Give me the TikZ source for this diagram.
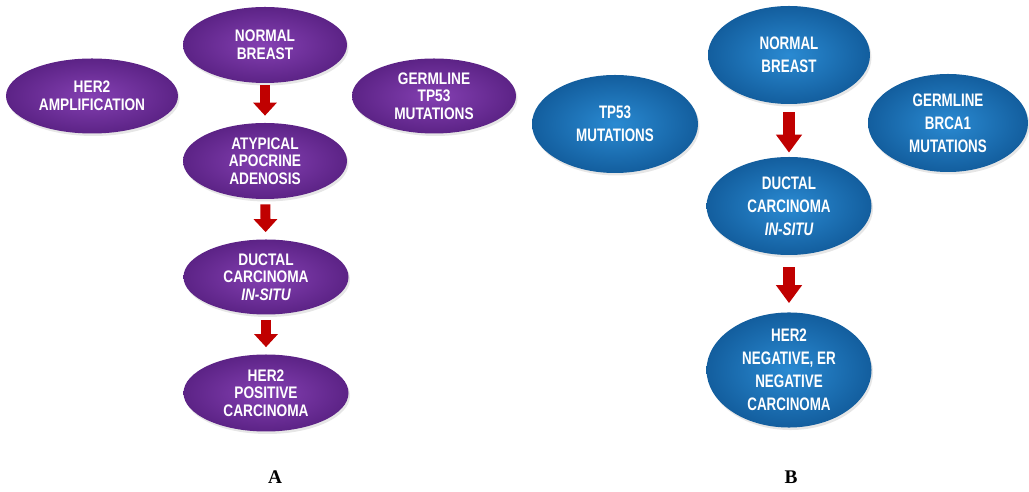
\documentclass[tikz,border=0pt]{standalone}
\usepackage{fontspec}
\setmainfont{Liberation Serif}
\newfontfamily\boxfont[FakeStretch=0.82]{Liberation Sans}
\newfontfamily\boxfontB[FakeStretch=0.74]{Liberation Sans}
\usetikzlibrary{shapes.geometric,arrows.meta,shadows}
\definecolor{purpleIn}{HTML}{8440B2}
\definecolor{purpleOut}{HTML}{5C2386}
\definecolor{blueIn}{HTML}{2A8AD2}
\definecolor{blueOut}{HTML}{135E9E}
\definecolor{arrowred}{HTML}{C00000}
\begin{document}
\begin{tikzpicture}[x=0.2mm, y=-0.2mm, line join=round,
    oval/.style={ellipse, inner sep=0pt, text=white, align=center,
        drop shadow={opacity=0.2, shadow xshift=0.3mm, shadow yshift=-0.5mm}},
    poval/.style={oval, shading=radial, inner color=purpleIn, outer color=purpleOut,
        font=\boxfont\bfseries\fontsize{9.5}{10}\selectfont},
    boval/.style={oval, shading=radial, inner color=blueIn, outer color=blueOut,
        font=\boxfontB\bfseries\fontsize{10.3}{13}\selectfont},
    fat/.style={draw=arrowred, line width=2mm, -{Triangle[width=4.6mm,length=2.6mm]},
        shorten <=1mm, shorten >=1.4mm},
    fatB/.style={draw=arrowred, line width=2.4mm, -{Triangle[width=5mm,length=3.6mm]}},
    panel/.style={font=\bfseries\fontsize{11}{13}\selectfont}]
    \useasboundingbox (0,0) rectangle (1029,492);
    % panel A
    \node[poval, minimum width=32.8mm, minimum height=15.2mm] (nbA) at (265,45) {NORMAL\\BREAST};
    \node[poval, minimum width=34.4mm, minimum height=15mm] (her2A) at (92,96) {HER2\\AMPLIFICATION};
    \node[poval, minimum width=32.8mm, minimum height=15mm] (gtpA) at (434,96) {GERMLINE\\TP53\\MUTATIONS};
    \node[poval, minimum width=32.8mm, minimum height=15.2mm] (aaaA) at (265,161) {ATYPICAL\\APOCRINE\\ADENOSIS};
    \node[poval, minimum width=33mm, minimum height=15mm] (dcisA) at (266,277) {DUCTAL\\CARCINOMA\\\itshape IN-SITU};
    \node[poval, minimum width=33mm, minimum height=15.4mm] (posA) at (266,393) {HER2\\POSITIVE\\CARCINOMA};
    \draw[fat, shorten <=0.4mm] (nbA) -- (aaaA);
    \draw[fat] (aaaA) -- (dcisA);
    \draw[fat] (dcisA) -- (posA);
    % panel B
    \node[boval, minimum width=32.4mm, minimum height=19.6mm] (nbB) at (789,55) {NORMAL\\BREAST};
    \node[boval, minimum width=33.2mm, minimum height=19.6mm] (tpB) at (615,124) {TP53\\MUTATIONS};
    \node[boval, minimum width=32mm, minimum height=19.6mm] (gbB) at (948,123) {GERMLINE\\BRCA1\\MUTATIONS};
    \node[boval, minimum width=33mm, minimum height=19.6mm] (dcisB) at (789,206) {DUCTAL\\CARCINOMA\\\itshape IN-SITU};
    \node[boval, minimum width=33mm, minimum height=23mm] (negB) at (789,370) {HER2\\NEGATIVE, ER\\NEGATIVE\\CARCINOMA};
    \draw[fatB, shorten <=1.6mm, shorten >=0.8mm] (nbB) -- (dcisB);
    \draw[fatB, shorten <=2.4mm, shorten >=1.8mm] (dcisB) -- (negB);
    % labels
    \node[panel] (labA) at (275,477) {A};
    \node[panel] (labB) at (791,477) {B};
\end{tikzpicture}
\end{document}
